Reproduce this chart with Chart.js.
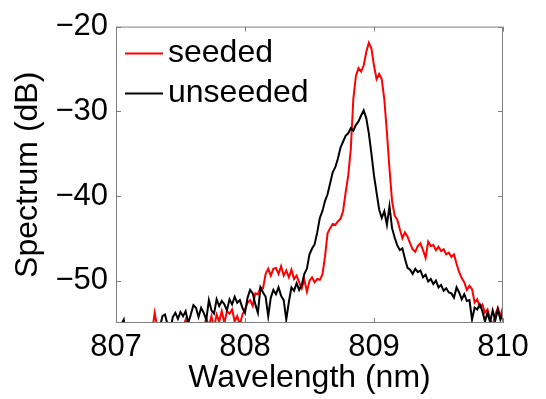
<!DOCTYPE html>
<html>
<head>
<meta charset="utf-8">
<script src="https://cdn.jsdelivr.net/npm/chart.js@4.4.0/dist/chart.umd.min.js"></script>
<style>
  html, body { margin: 0; padding: 0; background: #fff; }
  #wrap { width: 546px; height: 399px; position: relative; }
</style>
</head>
<body>
<div id="wrap"><canvas id="spectrumChart"></canvas></div>
<script>
const wavelength = [
  807.00, 807.02, 807.04, 807.06, 807.08, 807.10, 807.12, 807.14, 807.16, 807.18,
  807.20, 807.22, 807.24, 807.26, 807.28, 807.30, 807.32, 807.34, 807.36, 807.38,
  807.40, 807.42, 807.44, 807.46, 807.48, 807.50, 807.52, 807.54, 807.56, 807.58,
  807.60, 807.62, 807.64, 807.66, 807.68, 807.70, 807.72, 807.74, 807.76, 807.78,
  807.80, 807.82, 807.84, 807.86, 807.88, 807.90, 807.92, 807.94, 807.96, 807.98,
  808.00, 808.02, 808.04, 808.06, 808.08, 808.10, 808.12, 808.14, 808.16, 808.18,
  808.20, 808.22, 808.24, 808.26, 808.28, 808.30, 808.32, 808.34, 808.36, 808.38,
  808.40, 808.42, 808.44, 808.46, 808.48, 808.50, 808.52, 808.54, 808.56, 808.58,
  808.60, 808.62, 808.64, 808.66, 808.68, 808.70, 808.72, 808.74, 808.76, 808.78,
  808.80, 808.82, 808.84, 808.86, 808.88, 808.90, 808.92, 808.94, 808.96, 808.98,
  809.00, 809.02, 809.04, 809.06, 809.08, 809.10, 809.12, 809.14, 809.16, 809.18,
  809.20, 809.22, 809.24, 809.26, 809.28, 809.30, 809.32, 809.34, 809.36, 809.38,
  809.40, 809.42, 809.44, 809.46, 809.48, 809.50, 809.52, 809.54, 809.56, 809.58,
  809.60, 809.62, 809.64, 809.66, 809.68, 809.70, 809.72, 809.74, 809.76, 809.78,
  809.80, 809.82, 809.84, 809.86, 809.88, 809.90, 809.92, 809.94, 809.96, 809.98,
  810.00
];

// seeded spectrum (dB)
const seeded = [
  -58, -58, -57, -58, -58, -57, -58, -58, -57, -58,
  -58, -57, -58, -57, -56, -53.8, -55.5, -57, -56.5, -57,
  -56, -57, -58, -56.5, -57, -56, -55.5, -54.6, -55.5, -57,
  -56, -55.2, -56, -57, -55.6, -54.4, -55.4, -54.2, -55.6, -54.0,
  -54.8, -53.6, -55.0, -53.6, -53.9, -53.4, -54.8, -54.2, -55.2, -54.0,
  -53.4, -52.6, -52.3, -53.0, -51.5, -51.6, -50.8, -50.9, -49.2, -48.6,
  -49.4, -48.6, -48.5, -49.2, -48.3, -49.4, -48.8, -49.6, -48.7, -49.8,
  -49.4, -50.2, -50.9, -49.9, -51.3, -50.0, -49.6, -50.2, -49.8, -49.9,
  -49.3, -47.2, -44.4, -43.8, -43.3, -43.4, -43.0, -42.7, -41.8, -39.6,
  -37.6, -34.5, -28.5, -25.8, -24.9, -25.3, -24.6, -23.0, -21.9, -22.6,
  -24.6, -26.2, -25.6, -26.2, -28.6, -32.5, -36.8, -40.6, -42.3, -42.8,
  -43.9, -45.0, -44.3, -44.8, -45.6, -46.3, -46.6, -45.9, -45.6, -46.4,
  -47.3, -45.4, -45.9, -45.8, -46.4, -46.0, -46.5, -46.3, -46.9, -46.7,
  -47.2, -46.9, -48.0, -49.0, -49.7, -50.2, -51.1, -50.6, -51.0, -52.6,
  -52.2, -53.1, -52.8, -53.8, -53.4, -54.5, -55.3, -54.0, -53.2, -54.2,
  -53.1
];

// unseeded spectrum (dB)
const unseeded = [
  -57, -56, -55.2, -54.6, -57, -57, -58, -57, -56.5, -57,
  -58, -57, -56, -57, -56.5, -57, -56, -55.5, -54.2, -54.0,
  -55.2, -56, -54.3, -53.8, -54.5, -53.7, -54.2, -53.6, -55, -54,
  -52.9, -53.2, -54.3, -53.2, -53.8, -54.6, -52.3, -53.5, -53.9, -52.2,
  -53.0, -52.4, -52.8, -53.5, -52.2, -52.8, -51.9, -52.6, -52.3, -53.2,
  -53.8, -52.0, -51.1, -51.5, -52.8, -53.8, -50.8, -51.4, -51.9, -54.2,
  -52.0, -51.1, -51.6, -50.8, -51.8, -52.3, -54.6, -52.5, -50.8, -51.2,
  -50.3, -51.1, -50.5, -49.2, -48.6, -46.9, -46.2, -45.7, -44.3, -42.6,
  -41.8, -40.6, -39.8, -38.5, -37.2, -36.6, -35.6, -34.3, -33.6, -32.9,
  -32.6, -32.0, -32.3, -31.6, -31.2, -30.5, -29.9, -30.8, -32.6, -35.0,
  -37.6, -39.6, -41.6, -42.6, -41.8, -43.4, -41.2, -43.8, -44.9, -45.8,
  -46.4, -46.2, -47.4, -48.5, -48.7, -49.2, -48.6, -49.0, -48.8, -49.6,
  -49.3, -50.1, -49.8, -50.4, -50.0, -50.8, -50.5, -51.2, -50.9, -51.4,
  -51.5, -52.0, -50.8, -51.4, -52.2, -51.6, -52.4, -52.3, -54.6, -53.2,
  -53.4, -52.8, -53.6, -54.8, -53.8, -54.9, -53.5, -54.7, -53.4, -54.6,
  -53.9
];

const xTicks = [807, 808, 809, 810];
const yTicks = [-50, -40, -30, -20];
const seriesNames = ['seeded', 'unseeded'];

const FONT = '"Liberation Sans", Arial, Helvetica, sans-serif';

// box round the plot, inward tick marks and the legend in the top-left corner
const framePlugin = {
  id: 'frame',
  afterDatasetsDraw(chart) {
    const { ctx, chartArea: a, scales } = chart;
    ctx.save();
    ctx.strokeStyle = '#808080';
    ctx.lineWidth = 1;
    ctx.beginPath();
    ctx.rect(a.left + 0.5, a.top + 0.5, a.right - a.left - 1, a.bottom - a.top - 1);
    xTicks.forEach(v => {
      const x = Math.round(scales.x.getPixelForValue(v)) + 0.5;
      ctx.moveTo(x, a.bottom); ctx.lineTo(x, a.bottom - 5);
      ctx.moveTo(x, a.top); ctx.lineTo(x, a.top + 5);
    });
    yTicks.forEach(v => {
      const y = Math.round(scales.y.getPixelForValue(v)) + 0.5;
      ctx.moveTo(a.left, y); ctx.lineTo(a.left + 5, y);
      ctx.moveTo(a.right, y); ctx.lineTo(a.right - 5, y);
    });
    ctx.stroke();

    ctx.font = '32px ' + FONT;
    ctx.textBaseline = 'middle';
    ctx.textAlign = 'left';
    chart.data.datasets.forEach((ds, i) => {
      const y = a.top + 27 + i * 40;
      ctx.strokeStyle = ds.borderColor;
      ctx.lineWidth = 2;
      ctx.beginPath();
      ctx.moveTo(a.left + 9, y);
      ctx.lineTo(a.left + 47, y);
      ctx.stroke();
      ctx.fillStyle = '#000';
      ctx.fillText(ds.label, a.left + 52, y);
    });
    ctx.restore();
  }
};

const ctx = document.getElementById('spectrumChart');
new Chart(ctx, {
  type: 'line',
  data: {
    datasets: [
      {
        label: seriesNames[0],
        data: wavelength.map((w, i) => ({ x: w, y: seeded[i] })),
        borderColor: '#ff0000',
        borderWidth: 2,
        pointRadius: 0,
        order: 2
      },
      {
        label: seriesNames[1],
        data: wavelength.map((w, i) => ({ x: w, y: unseeded[i] })),
        borderColor: '#000000',
        borderWidth: 2,
        pointRadius: 0,
        order: 1
      }
    ]
  },
  options: {
    responsive: true,
    maintainAspectRatio: false,
    animation: false,
    devicePixelRatio: 1,
    layout: { padding: { left: 0, right: 43, top: 19, bottom: 0 } },
    plugins: { legend: { display: false }, tooltip: { enabled: false } },
    scales: {
      x: {
        type: 'linear',
        min: 807,
        max: 810,
        afterBuildTicks: s => { s.ticks = xTicks.map(v => ({ value: v })); },
        afterFit: s => { s.height = 76; },
        grid: { display: false, drawTicks: false },
        border: { display: false },
        ticks: { color: '#000', font: { size: 31, family: FONT }, padding: 6, maxRotation: 0 },
        title: {
          display: true,
          text: 'Wavelength (nm)',
          color: '#000',
          font: { size: 32, family: FONT, lineHeight: 1 },
          padding: { top: 0, bottom: 5 }
        }
      },
      y: {
        min: -55,
        max: -20,
        afterBuildTicks: s => { s.ticks = yTicks.map(v => ({ value: v })); },
        afterFit: s => { s.width = 116; },
        grid: { display: false, drawTicks: false },
        border: { display: false },
        ticks: {
          color: '#000',
          font: { size: 31, family: FONT },
          padding: 8,
          callback: v => String(v).replace('-', '\u2212')
        },
        title: {
          display: true,
          text: 'Spectrum (dB)',
          color: '#000',
          font: { size: 32, family: FONT, lineHeight: 1 },
          padding: { top: 12, bottom: 0 }
        }
      }
    }
  },
  plugins: [framePlugin]
});
</script>
</body>
</html>
